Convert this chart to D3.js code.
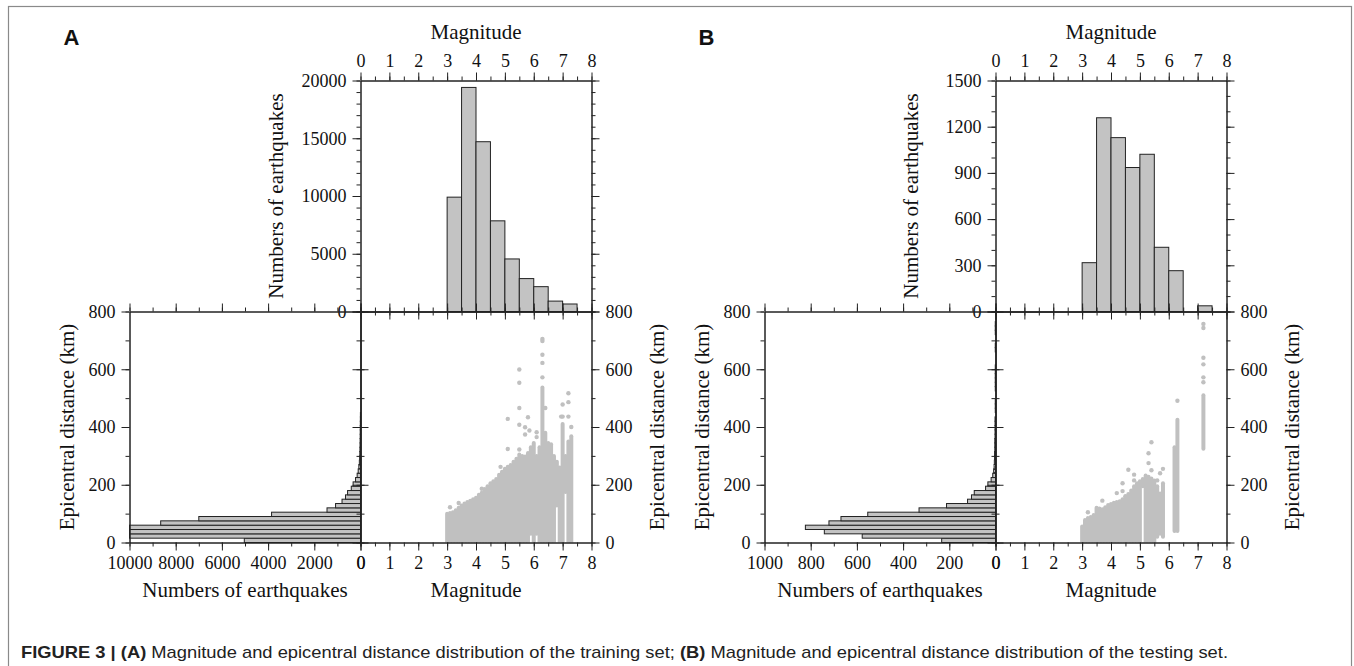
<!DOCTYPE html>
<html>
<head>
<meta charset="utf-8">
<script src="https://cdn.jsdelivr.net/npm/d3@7"></script>
<style>
  body { margin: 0; background: #fff; }
  svg { display: block; }
  .tick text { font-family: "Liberation Serif", "Times New Roman", serif; font-size: 18px; fill: #111; }
  .domain, .tick line { stroke: #222; stroke-width: 1; }
  .title { font-family: "Liberation Serif", "Times New Roman", serif; font-size: 21px; fill: #111; }
  .panel-label { font-family: "Liberation Sans", Arial, sans-serif; font-weight: bold; font-size: 22px; fill: #111; }
  .caption { font-family: "Liberation Sans", Arial, sans-serif; font-size: 17px; fill: #222; }
</style>
</head>
<body>
<svg id="fig" width="1354" height="666"></svg>
<script>
// magnitude histogram, bins 0.5 wide (lower edges)
const magBins = [3.0, 3.5, 4.0, 4.5, 5.0, 5.5, 6.0, 6.5, 7.0];
const magCountTrain = [9900, 19400, 14700, 7850, 4550, 2850, 2150, 900, 650];
const magCountTest = [317, 1258, 1129, 935, 1021, 417, 265, 0, 37];

// epicentral distance histogram, 15 km bins starting at 0 km
const distBinWidth = 15;
const distCountTrain = [5030, 11500, 11200, 10800, 8650, 7000, 3850, 1450, 1080, 800,
  650, 560, 400, 320, 215, 145, 100, 72, 50, 38,
  30, 25, 20, 17, 14, 12, 10, 8, 6, 4];
const distCountTest = [233, 577, 741, 823, 721, 669, 553, 331, 212, 121,
  104, 92, 43, 33, 19, 12, 8, 6, 5, 4,
  4, 3, 3, 3, 2, 2, 2, 2, 2, 0,
  1, 1, 1, 0, 0, 1, 1, 1, 1, 1,
  1, 0, 0, 0, 1, 1, 0, 0, 1, 1, 1];

// scatter: dense columns [magnitude, min km, max km]
const colsTrain = [
  [3.0, 0, 100], [3.1, 0, 102], [3.2, 0, 105], [3.3, 0, 112], [3.4, 0, 120],
  [3.5, 0, 128], [3.6, 0, 135], [3.7, 0, 140], [3.8, 0, 145], [3.9, 0, 150],
  [4.0, 0, 155], [4.1, 0, 165], [4.2, 0, 172], [4.3, 0, 185], [4.4, 0, 195],
  [4.5, 0, 205], [4.6, 0, 212], [4.7, 0, 220], [4.8, 0, 235], [4.9, 0, 245],
  [5.0, 0, 255], [5.1, 0, 262], [5.2, 0, 268], [5.3, 0, 280], [5.4, 0, 290],
  [5.5, 0, 305], [5.6, 0, 300], [5.7, 0, 298], [5.8, 0, 310], [5.9, 30, 330],
  [6.0, 0, 345], [6.1, 30, 300], [6.2, 0, 330], [6.3, 0, 537], [6.4, 0, 380],
  [6.5, 0, 345], [6.6, 0, 340], [6.7, 0, 300], [6.8, 128, 280], [6.9, 0, 260],
  [7.0, 0, 410], [7.1, 175, 300], [7.2, 0, 350], [7.3, 0, 368]
];
// isolated points [magnitude, km]
const ptsTrain = [
  [6.3, 705], [6.3, 698], [6.3, 650], [6.3, 622], [6.3, 572],
  [5.5, 599], [5.5, 553], [5.5, 466], [5.5, 408], [5.5, 322],
  [5.1, 428], [5.1, 324], [5.8, 434], [5.7, 399], [5.7, 374], [5.85, 388],
  [6.1, 382], [6.1, 365], [6.4, 466], [7.2, 517], [7.2, 486], [7.0, 478],
  [7.2, 436], [7.3, 400], [7.0, 436], [6.95, 436],
  [3.1, 122], [3.4, 137], [4.2, 186], [4.85, 262]
];

const colsTest = [
  [3.0, 0, 55], [3.1, 0, 78], [3.2, 0, 85], [3.3, 0, 88], [3.4, 0, 95],
  [3.5, 0, 120], [3.6, 0, 118], [3.7, 0, 115], [3.8, 0, 122], [3.9, 0, 130],
  [4.0, 0, 133], [4.1, 0, 138], [4.2, 0, 140], [4.3, 0, 143], [4.4, 0, 150],
  [4.5, 0, 158], [4.6, 0, 168], [4.7, 0, 180], [4.8, 0, 195], [4.9, 0, 205],
  [5.0, 0, 212], [5.1, 195, 220], [5.2, 0, 232], [5.3, 0, 228], [5.4, 0, 222],
  [5.5, 0, 215], [5.6, 20, 195], [5.7, 30, 170], [5.8, 20, 205],
  [6.2, 40, 330], [6.3, 40, 425], [7.2, 325, 510]
];
const ptsTest = [
  [3.2, 105], [3.7, 145], [4.2, 171], [4.4, 178], [4.4, 205], [4.5, 160],
  [4.6, 252], [4.8, 235], [4.8, 215], [5.3, 309], [5.4, 347], [5.3, 275],
  [5.4, 250], [5.8, 255], [5.7, 240], [5.6, 215], [6.3, 491],
  [7.2, 757], [7.2, 743], [7.2, 640], [7.2, 617], [7.2, 572], [7.2, 555]
];

const svg = d3.select('#fig');
const S = 231;

svg.append('rect')
  .attr('x', 8.5).attr('y', 6.5).attr('width', 1343).attr('height', 720)
  .attr('fill', 'none').attr('stroke', '#8a8a8a').attr('stroke-width', 1.2);

function range(a, b, step) {
  const out = [];
  for (let v = a; v <= b + 1e-9; v += step) out.push(+v.toFixed(4));
  return out;
}

function drawAxis(g, gen, scale, major, minor, labels, tx, ty) {
  const ga = g.append('g').attr('transform', `translate(${tx},${ty})`);
  ga.call(gen(scale).tickValues(minor).tickSize(4).tickSizeOuter(0).tickFormat(''));
  ga.append('g').call(gen(scale).tickValues(major).tickSize(8).tickSizeOuter(0)
    .tickPadding(6).tickFormat(labels ? d3.format('d') : ''));
}

function panel(dx, cfg) {
  const x0 = 360.5 + dx, y0 = 311.5;
  const g = svg.append('g');
  const xMag = d3.scaleLinear().domain([0, 8]).range([x0, x0 + S]);
  const yDist = d3.scaleLinear().domain([0, 800]).range([y0 + S, y0]);
  const yCount = d3.scaleLinear().domain([0, cfg.topMax]).range([y0, y0 - S]);
  const xCount = d3.scaleLinear().domain([0, cfg.leftMax]).range([x0, x0 - S]);

  // top histogram
  g.append('g').selectAll('rect')
    .data(magBins.map((b, i) => ({ b, v: cfg.mag[i] })).filter(d => d.v > 0))
    .join('rect')
    .attr('x', d => xMag(d.b)).attr('width', d => xMag(d.b + 0.5) - xMag(d.b))
    .attr('y', d => yCount(d.v)).attr('height', d => y0 - yCount(d.v))
    .attr('fill', '#c3c3c3').attr('stroke', '#222').attr('stroke-width', 1);

  // left histogram
  g.append('g').selectAll('rect')
    .data(cfg.dist.map((v, i) => ({ lo: i * distBinWidth, v })).filter(d => d.v > 0))
    .join('rect')
    .attr('y', d => yDist(d.lo + distBinWidth))
    .attr('height', d => yDist(d.lo) - yDist(d.lo + distBinWidth))
    .attr('x', d => xCount(Math.min(d.v, cfg.leftMax)))
    .attr('width', d => x0 - xCount(Math.min(d.v, cfg.leftMax)))
    .attr('fill', '#c3c3c3').attr('stroke', '#222').attr('stroke-width', 1);

  // scatter
  const clipId = 'clip' + dx;
  svg.append('clipPath').attr('id', clipId).append('rect')
    .attr('x', x0).attr('y', y0).attr('width', S).attr('height', S);
  const sc = g.append('g').attr('clip-path', `url(#${clipId})`);
  sc.selectAll('line').data(cfg.cols).join('line')
    .attr('x1', d => xMag(d[0])).attr('x2', d => xMag(d[0]))
    .attr('y1', d => yDist(d[1])).attr('y2', d => yDist(d[2]))
    .attr('stroke', '#c0c0c0').attr('stroke-width', 4).attr('stroke-linecap', 'round');
  sc.selectAll('circle').data(cfg.pts).join('circle')
    .attr('cx', d => xMag(d[0])).attr('cy', d => yDist(d[1])).attr('r', 2.2)
    .attr('fill', '#c0c0c0');

  const magMajor = range(0, 8, 1), magMinor = range(0, 8, 0.5);
  const distMajor = range(0, 800, 200), distMinor = range(0, 800, 100);
  const topMajor = range(0, cfg.topMax, cfg.topStep), topMinor = range(0, cfg.topMax, cfg.topMinor);
  const leftMajor = range(0, cfg.leftMax, cfg.leftStep), leftMinor = range(0, cfg.leftMax, cfg.leftMinor);

  // top histogram frame
  drawAxis(g, d3.axisTop, xMag, magMajor, magMinor, true, 0, y0 - S);
  drawAxis(g, d3.axisBottom, xMag, magMajor, magMinor, false, 0, y0);
  drawAxis(g, d3.axisLeft, yCount, topMajor, topMinor, true, x0, 0);
  drawAxis(g, d3.axisRight, yCount, topMajor, topMinor, false, x0 + S, 0);
  // scatter frame
  drawAxis(g, d3.axisTop, xMag, magMajor, magMinor, false, 0, y0);
  drawAxis(g, d3.axisBottom, xMag, magMajor, magMinor, true, 0, y0 + S);
  drawAxis(g, d3.axisLeft, yDist, distMajor, distMinor, false, x0, 0);
  drawAxis(g, d3.axisRight, yDist, distMajor, distMinor, true, x0 + S, 0);
  // left histogram frame
  drawAxis(g, d3.axisTop, xCount, leftMajor, leftMinor, false, 0, y0);
  drawAxis(g, d3.axisBottom, xCount, leftMajor, leftMinor, true, 0, y0 + S);
  drawAxis(g, d3.axisLeft, yDist, distMajor, distMinor, true, x0 - S, 0);
  drawAxis(g, d3.axisRight, yDist, distMajor, distMinor, false, x0, 0);

  // titles
  g.append('text').attr('class', 'title').attr('text-anchor', 'middle')
    .attr('x', x0 + S / 2).attr('y', 38.5).text('Magnitude');
  g.append('text').attr('class', 'title').attr('text-anchor', 'middle')
    .attr('x', x0 + S / 2).attr('y', 597).text('Magnitude');
  g.append('text').attr('class', 'title').attr('text-anchor', 'middle')
    .attr('x', x0 - S / 2).attr('y', 597).text('Numbers of earthquakes');
  g.append('text').attr('class', 'title').attr('text-anchor', 'middle')
    .attr('transform', `translate(${x0 - 78},${y0 - S / 2}) rotate(-90)`)
    .text('Numbers of earthquakes');
  g.append('text').attr('class', 'title').attr('text-anchor', 'middle')
    .attr('transform', `translate(${x0 - 287},${y0 + S / 2}) rotate(-90)`)
    .text('Epicentral distance (km)');
  g.append('text').attr('class', 'title').attr('text-anchor', 'middle')
    .attr('transform', `translate(${x0 + S + 72},${y0 + S / 2}) rotate(-90)`)
    .text('Epicentral distance (km)');
  g.append('text').attr('class', 'panel-label')
    .attr('x', x0 - 297).attr('y', 45).text(cfg.label);
}

panel(0, {
  label: 'A', mag: magCountTrain, dist: distCountTrain, cols: colsTrain, pts: ptsTrain,
  topMax: 20000, topStep: 5000, topMinor: 1000, leftMax: 10000, leftStep: 2000, leftMinor: 1000
});
panel(635, {
  label: 'B', mag: magCountTest, dist: distCountTest, cols: colsTest, pts: ptsTest,
  topMax: 1500, topStep: 300, topMinor: 100, leftMax: 1000, leftStep: 200, leftMinor: 100
});

// caption
const cap = svg.append('text').attr('class', 'caption')
  .attr('x', 21).attr('y', 658)
  .attr('textLength', 1207).attr('lengthAdjust', 'spacingAndGlyphs');
cap.append('tspan').attr('font-weight', 'bold').text('FIGURE 3 | (A)');
cap.append('tspan').text(' Magnitude and epicentral distance distribution of the training set; ');
cap.append('tspan').attr('font-weight', 'bold').text('(B)');
cap.append('tspan').text(' Magnitude and epicentral distance distribution of the testing set.');
</script>
</body>
</html>
